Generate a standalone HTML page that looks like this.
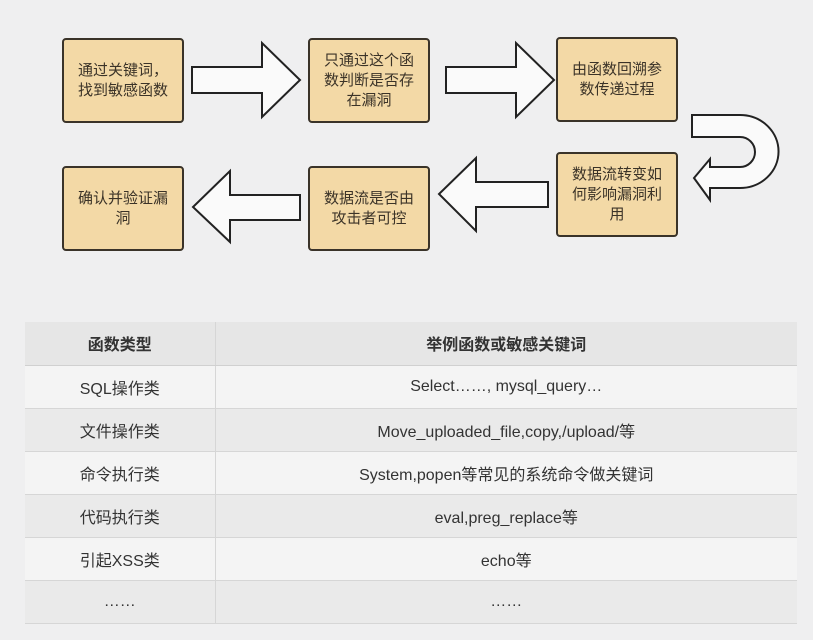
<!DOCTYPE html>
<html><head><meta charset="utf-8"><style>
body{margin:0;width:813px;height:640px;background:#efeff0;font-family:"Liberation Sans","Noto Sans CJK SC",sans-serif;overflow:hidden;position:relative}
.b{position:absolute;width:122px;height:85px;background:#f3d9a6;border:2px solid #3a3329;border-radius:4px;box-sizing:border-box;display:flex;align-items:center;justify-content:center;text-align:center;font-size:15px;line-height:20px;color:#3b3328;padding:0 13px}
table{position:absolute;left:25px;top:322px;width:772px;border-collapse:collapse;font-size:16px;color:#333}
td,th{height:43px;padding:0;box-sizing:border-box;text-align:center}
td{border-bottom:1px solid #d6d6d6;background:#f4f4f4}
tr:nth-child(odd) td{background:#eaeaea}
td:first-child{width:190px;border-right:1px solid #d6d6d6}
th{background:#e6e6e6;font-weight:bold;font-size:16px;border-bottom:1px solid #d0d0d0}
th:first-child{border-right:1px solid #d6d6d6}
</style></head><body>
<svg width="813" height="300" style="position:absolute;left:0;top:0" fill="#fafafa" stroke="#222" stroke-width="2">
<polygon points="192,67 262,67 262,43 300,80 262,117 262,93 192,93"/>
<polygon points="446,67 516,67 516,43 554,80 516,117 516,93 446,93"/>
<polygon points="548,182 476,182 476,158 439,194 476,231 476,207 548,207"/>
<polygon points="300,195 230,195 230,171 193,207 230,242 230,220 300,220"/>
<path d="M692,115 L740,115 A38,36 0 0 1 740,188 L710,188 L710,200 L694,178 L710,159 L710,167 L740,167 A15,15 0 0 0 740,137 L692,137 Z"/>
</svg>
<div class="b" style="left:62px;top:38px">通过关键词，<br>找到敏感函数</div>
<div class="b" style="left:308px;top:38px">只通过这个函数判断是否存在漏洞</div>
<div class="b" style="left:556px;top:37px">由函数回溯参数传递过程</div>
<div class="b" style="left:556px;top:152px">数据流转变如何影响漏洞利用</div>
<div class="b" style="left:308px;top:166px">数据流是否由攻击者可控</div>
<div class="b" style="left:62px;top:166px">确认并验证漏洞</div>
<table>
<tr><th>函数类型</th><th>举例函数或敏感关键词</th></tr>
<tr><td>SQL操作类</td><td>Select……, mysql_query…</td></tr>
<tr><td>文件操作类</td><td>Move_uploaded_file,copy,/upload/等</td></tr>
<tr><td>命令执行类</td><td>System,popen等常见的系统命令做关键词</td></tr>
<tr><td>代码执行类</td><td>eval,preg_replace等</td></tr>
<tr><td>引起XSS类</td><td>echo等</td></tr>
<tr><td>……</td><td>……</td></tr>
</table>
</body></html>
